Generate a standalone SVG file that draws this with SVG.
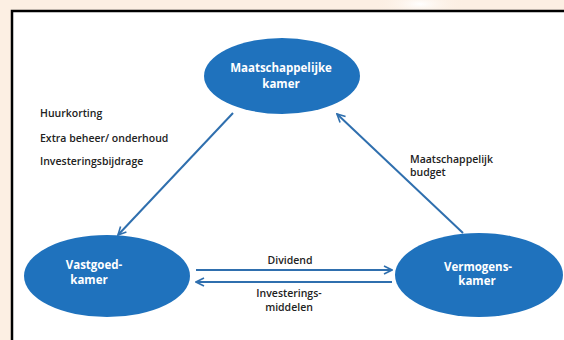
<svg xmlns="http://www.w3.org/2000/svg" width="564" height="340" viewBox="0 0 564 340">
<style>
.node{fill:#1f72bd;}
.nl{font-family:"Open Sans","Liberation Sans",sans-serif;font-weight:700;font-size:11.5px;fill:#ffffff;text-anchor:middle;}
.lbl{font-family:"Open Sans","Liberation Sans",sans-serif;font-weight:600;font-size:10.5px;fill:#222222;}
.edge{stroke:#2f6fae;stroke-width:2;fill:none;marker-end:url(#ah);}
</style>
<defs>
<marker id="ah" viewBox="0 0 10 10" refX="9" refY="5" markerWidth="5" markerHeight="5" orient="auto" markerUnits="strokeWidth">
<path d="M1,1 L9,5 L1,9" fill="none" stroke="#2f6fae" stroke-width="1.6"/>
</marker>
<radialGradient id="glow" cx="0.5" cy="0.5" r="0.5">
<stop offset="0" stop-color="#ffffff"/>
<stop offset="1" stop-color="#fcefe3" stop-opacity="0"/>
</radialGradient>
</defs>
<rect x="0" y="0" width="564" height="340" fill="#fcefe3"/>
<ellipse cx="420" cy="4" rx="45" ry="14" fill="url(#glow)"/>
<rect x="12" y="11" width="600" height="400" fill="#ffffff" stroke="#000000" stroke-width="2.5"/>
<g id="connectors">
<line class="edge" x1="233" y1="113" x2="118" y2="235"/>
<line class="edge" x1="463" y1="233" x2="337" y2="114"/>
<line class="edge" x1="196" y1="270" x2="392" y2="270"/>
<line class="edge" x1="392" y1="282" x2="196" y2="282"/>
</g>
<g id="n-maatschappelijk">
<ellipse class="node" cx="282" cy="76" rx="78" ry="38"/>
<text class="nl" x="281" y="72">Maatschappelijke</text>
<text class="nl" x="281" y="88">kamer</text>
</g>
<g id="n-vastgoed">
<ellipse class="node" cx="107" cy="276" rx="83" ry="41"/>
<text class="nl" x="94" y="269">Vastgoed-</text>
<text class="nl" x="89" y="284">kamer</text>
</g>
<g id="n-vermogens">
<ellipse class="node" cx="479" cy="275" rx="84" ry="42"/>
<text class="nl" x="478" y="271">Vermogens-</text>
<text class="nl" x="477" y="285">kamer</text>
</g>
<g id="labels">
<text class="lbl" x="40" y="117">Huurkorting</text>
<text class="lbl" x="40" y="142">Extra beheer/ onderhoud</text>
<text class="lbl" x="40" y="165">Investeringsbijdrage</text>
<text class="lbl" x="410" y="163">Maatschappelijk</text>
<text class="lbl" x="410" y="176">budget</text>
<text class="lbl" x="290" y="264" text-anchor="middle">Dividend</text>
<text class="lbl" x="289" y="297" text-anchor="middle">Investerings-</text>
<text class="lbl" x="289" y="311" text-anchor="middle">middelen</text>
</g>
</svg>
